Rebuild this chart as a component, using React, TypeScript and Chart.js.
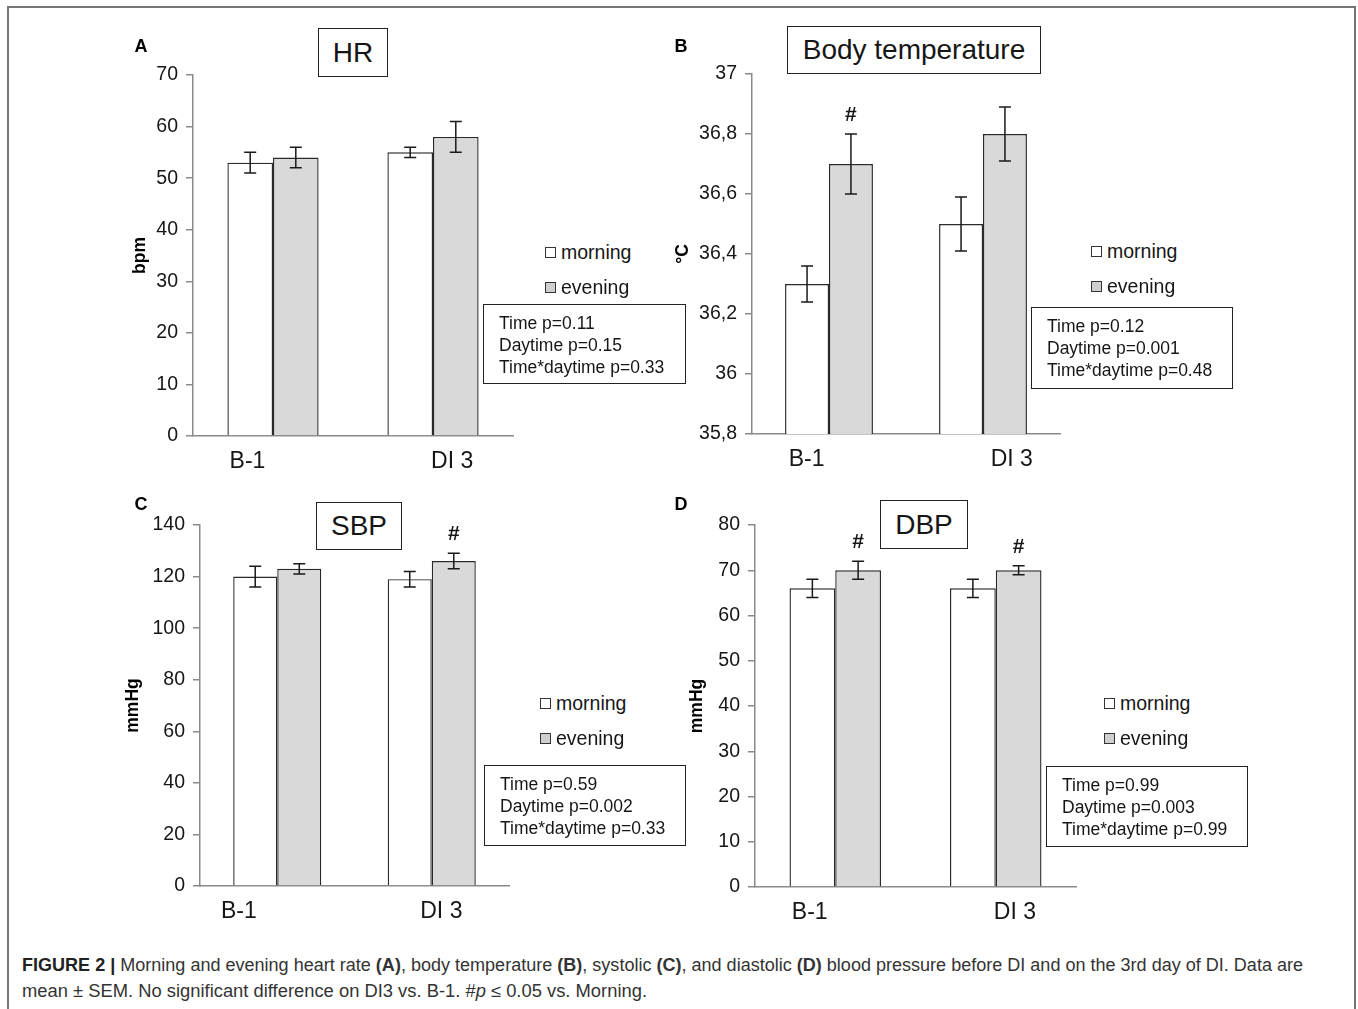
import React, { useEffect, useRef } from "react";
import { Chart, registerables } from "chart.js";

Chart.register(...registerables);

// ---------- data ----------
const CATEGORIES = ["B-1", "DI 3"];
const SERIES = ["morning", "evening"];

const HR_MORNING = [53, 55];
const HR_EVENING = [54, 58];
const HR_MORNING_ERR = [2, 1];
const HR_EVENING_ERR = [2, 3];
const HR_TICKS = [0, 10, 20, 30, 40, 50, 60, 70];
const HR_HASH = [false, false];
const HR_STATS = ["Time p=0.11", "Daytime p=0.15", "Time*daytime p=0.33"];

const BT_MORNING = [36.3, 36.5];
const BT_EVENING = [36.7, 36.8];
const BT_MORNING_ERR = [0.06, 0.09];
const BT_EVENING_ERR = [0.1, 0.09];
const BT_TICKS = [35.8, 36.0, 36.2, 36.4, 36.6, 36.8, 37.0];
const BT_HASH = [true, false];
const BT_STATS = ["Time p=0.12", "Daytime p=0.001", "Time*daytime p=0.48"];

const SBP_MORNING = [120, 119];
const SBP_EVENING = [123, 126];
const SBP_MORNING_ERR = [4, 3];
const SBP_EVENING_ERR = [2, 3];
const SBP_TICKS = [0, 20, 40, 60, 80, 100, 120, 140];
const SBP_HASH = [false, true];
const SBP_STATS = ["Time p=0.59", "Daytime p=0.002", "Time*daytime p=0.33"];

const DBP_MORNING = [66, 66];
const DBP_EVENING = [70, 70];
const DBP_MORNING_ERR = [2, 2];
const DBP_EVENING_ERR = [2, 1];
const DBP_TICKS = [0, 10, 20, 30, 40, 50, 60, 70, 80];
const DBP_HASH = [true, true];
const DBP_STATS = ["Time p=0.99", "Daytime p=0.003", "Time*daytime p=0.99"];

// ---------- styling ----------
const FONT = "'Liberation Sans', Arial, Helvetica, sans-serif";
const TEXT = "#161616";
const AXIS = "#8a8a8a";
const BAR_BORDER = "#2a2a2a";
const MORNING_FILL = "#ffffff";
const EVENING_FILL = "#d9d9d9";
const XLABEL_SIZE = 23;

type PanelProps = {
  morning: number[];
  evening: number[];
  morningErr: number[];
  eveningErr: number[];
  ticks: number[];
  hash: boolean[];
  yTitle: string;
  comma?: boolean;
  axisX: number;
  axisTop: number;
  axisBottom: number;
  axisEnd: number;
  titleX: number;
  labelShift: number[];
};

function ChartPanel(p: PanelProps) {
  const ref = useRef<HTMLCanvasElement | null>(null);
  const left = p.titleX - 9;
  const top = p.axisTop - 20;
  const right = p.axisEnd + 10;
  const bottom = p.axisBottom + 45;
  const width = right - left;
  const height = bottom - top;

  useEffect(() => {
    if (!ref.current) return;
    const errs = [p.morningErr, p.eveningErr];
    const errPlugin = {
      id: "errbars",
      afterDatasetsDraw(chart: any) {
        const ctx = chart.ctx;
        const ys = chart.scales.y;
        errs.forEach((err, di) => {
          const meta = chart.getDatasetMeta(di);
          meta.data.forEach((bar: any, i: number) => {
            const v = chart.data.datasets[di].data[i] as number;
            const t = ys.getPixelForValue(v + err[i]);
            const b = ys.getPixelForValue(v - err[i]);
            ctx.save();
            ctx.strokeStyle = "#1a1a1a";
            ctx.lineWidth = 1.5;
            ctx.beginPath();
            ctx.moveTo(bar.x, t);
            ctx.lineTo(bar.x, b);
            ctx.moveTo(bar.x - 6, t);
            ctx.lineTo(bar.x + 6, t);
            ctx.moveTo(bar.x - 6, b);
            ctx.lineTo(bar.x + 6, b);
            ctx.stroke();
            if (di === 1 && p.hash[i]) {
              ctx.fillStyle = TEXT;
              ctx.font = `bold 21px ${FONT}`;
              ctx.textAlign = "center";
              ctx.textBaseline = "middle";
              ctx.fillText("#", bar.x, t - 19);
            }
            ctx.restore();
          });
        });
      },
    };

    const fmt = (v: number) =>
      p.comma ? String(Math.round(v * 10) / 10).replace(".", ",") : String(v);

    // horizontal nudge of category labels (as in the original figure) via padding spaces
    const spaceW = 0.278 * XLABEL_SIZE;
    const xLabel = (i: number) => {
      const s = p.labelShift[i] || 0;
      const n = Math.round((Math.abs(s) * 2) / spaceW);
      const pad = " ".repeat(n);
      return s < 0 ? CATEGORIES[i] + pad : pad + CATEGORIES[i];
    };

    const chart = new Chart(ref.current, {
      type: "bar",
      data: {
        labels: CATEGORIES,
        datasets: [
          {
            label: SERIES[0],
            data: p.morning,
            backgroundColor: MORNING_FILL,
            borderColor: BAR_BORDER,
            borderWidth: 1.4,
          },
          {
            label: SERIES[1],
            data: p.evening,
            backgroundColor: EVENING_FILL,
            borderColor: BAR_BORDER,
            borderWidth: 1.4,
          },
        ],
      },
      options: {
        responsive: false,
        animation: false,
        devicePixelRatio: 1,
        layout: { padding: { top: 20, right: 10, left: 0, bottom: 0 } },
        plugins: {
          legend: { display: false },
          tooltip: { enabled: false },
          title: { display: false },
        },
        datasets: { bar: { categoryPercentage: 0.57, barPercentage: 1 } },
        scales: {
          x: {
            type: "category",
            offset: true,
            grid: { display: false, drawTicks: false },
            border: { display: true, color: AXIS, width: 1.5 },
            ticks: {
              font: { family: FONT, size: XLABEL_SIZE },
              color: TEXT,
              padding: 12,
              maxRotation: 0,
              autoSkip: false,
              callback: (_v: any, i: number) => xLabel(i),
            },
            afterFit: (s: any) => {
              s.height = 45;
            },
          },
          y: {
            type: "linear",
            min: p.ticks[0],
            max: p.ticks[p.ticks.length - 1],
            afterBuildTicks: (s: any) => {
              s.ticks = p.ticks.map((v) => ({ value: v }));
            },
            ticks: {
              font: { family: FONT, size: 19.5 },
              color: TEXT,
              padding: 8,
              callback: (v: any) => fmt(Number(v)),
            },
            grid: {
              drawOnChartArea: false,
              drawTicks: true,
              tickLength: 7,
              color: AXIS,
              lineWidth: 1.5,
            },
            border: { display: true, color: AXIS, width: 1.5 },
            title: {
              display: true,
              text: p.yTitle,
              color: "#000",
              font: { family: FONT, size: 17.5, weight: "bold", lineHeight: 1 },
              padding: 0,
            },
            afterFit: (s: any) => {
              s.width = p.axisX - left;
            },
          },
        },
      } as any,
      plugins: [errPlugin],
    });
    return () => chart.destroy();
  }, []);

  return (
    <canvas
      ref={ref}
      width={width}
      height={height}
      style={{ position: "absolute", left, top, width, height }}
    />
  );
}

function Letter({ x, y, t }: { x: number; y: number; t: string }) {
  return (
    <div
      style={{
        position: "absolute",
        left: x - 10,
        top: y - 11,
        width: 20,
        height: 22,
        lineHeight: "22px",
        textAlign: "center",
        font: `bold 18px ${FONT}`,
        color: "#000",
      }}
    >
      {t}
    </div>
  );
}

function TitleBox({ l, t, r, b, text }: { l: number; t: number; r: number; b: number; text: string }) {
  return (
    <div
      style={{
        position: "absolute",
        left: l,
        top: t,
        width: r - l,
        height: b - t,
        boxSizing: "border-box",
        border: "1.5px solid #222",
        background: "#fff",
        display: "flex",
        alignItems: "center",
        justifyContent: "center",
        font: `28px ${FONT}`,
        color: TEXT,
        whiteSpace: "nowrap",
      }}
    >
      {text}
    </div>
  );
}

function Legend({ x, y1, y2 }: { x: number; y1: number; y2: number }) {
  const item = (y: number, fill: string, label: string) => (
    <div
      key={label}
      style={{
        position: "absolute",
        left: x,
        top: y - 12,
        height: 24,
        display: "flex",
        alignItems: "center",
        font: `19.5px ${FONT}`,
        color: TEXT,
        whiteSpace: "nowrap",
      }}
    >
      <span
        style={{
          display: "inline-block",
          width: 9,
          height: 9,
          border: "1px solid #333",
          background: fill,
          marginRight: 5,
        }}
      />
      {label}
    </div>
  );
  return (
    <>
      {item(y1, MORNING_FILL, SERIES[0])}
      {item(y2, "#cfcfcf", SERIES[1])}
    </>
  );
}

function Stats({ l, t, r, b, lines }: { l: number; t: number; r: number; b: number; lines: string[] }) {
  return (
    <div
      style={{
        position: "absolute",
        left: l,
        top: t,
        width: r - l,
        height: b - t,
        boxSizing: "border-box",
        border: "1.5px solid #222",
        background: "#fff",
        padding: "7px 0 0 15px",
        font: `17.5px ${FONT}`,
        lineHeight: "22px",
        color: TEXT,
        whiteSpace: "nowrap",
      }}
    >
      {lines.map((s) => (
        <div key={s}>{s}</div>
      ))}
    </div>
  );
}

export default function App() {
  return (
    <div
      style={{
        position: "absolute",
        left: 0,
        top: 0,
        width: 1358,
        height: 1009,
        overflow: "hidden",
        background: "#fff",
      }}
    >
      <div
        style={{
          position: "absolute",
          left: 7,
          top: 6,
          width: 1345,
          height: 1020,
          borderLeft: "2px solid #767676",
          borderTop: "2px solid #767676",
          borderRight: "2px solid #767676",
        }}
      />

      {/* Panel A */}
      <ChartPanel
        morning={HR_MORNING}
        evening={HR_EVENING}
        morningErr={HR_MORNING_ERR}
        eveningErr={HR_EVENING_ERR}
        ticks={HR_TICKS}
        hash={HR_HASH}
        yTitle="bpm"
        axisX={193}
        axisTop={75}
        axisBottom={436}
        axisEnd={513}
        titleX={140}
        labelShift={[-24, 20]}
      />
      <Letter x={141} y={47} t="A" />
      <TitleBox l={318} t={28} r={388} b={77} text="HR" />
      <Legend x={545} y1={252} y2={287} />
      <Stats l={483} t={304} r={686} b={384} lines={HR_STATS} />

      {/* Panel B */}
      <ChartPanel
        morning={BT_MORNING}
        evening={BT_EVENING}
        morningErr={BT_MORNING_ERR}
        eveningErr={BT_EVENING_ERR}
        ticks={BT_TICKS}
        hash={BT_HASH}
        yTitle="°C"
        comma
        axisX={752}
        axisTop={74}
        axisBottom={434}
        axisEnd={1060}
        titleX={683}
        labelShift={[-23, 29]}
      />
      <Letter x={681} y={47} t="B" />
      <TitleBox l={787} t={26} r={1041} b={74} text="Body temperature" />
      <Legend x={1091} y1={251} y2={286} />
      <Stats l={1031} t={307} r={1233} b={389} lines={BT_STATS} />

      {/* Panel C */}
      <ChartPanel
        morning={SBP_MORNING}
        evening={SBP_EVENING}
        morningErr={SBP_MORNING_ERR}
        eveningErr={SBP_EVENING_ERR}
        ticks={SBP_TICKS}
        hash={SBP_HASH}
        yTitle="mmHg"
        axisX={200}
        axisTop={525}
        axisBottom={886}
        axisEnd={509}
        titleX={133}
        labelShift={[-37, 11]}
      />
      <Letter x={141} y={505} t="C" />
      <TitleBox l={316} t={502} r={402} b={550} text="SBP" />
      <Legend x={540} y1={703} y2={738} />
      <Stats l={484} t={765} r={686} b={846} lines={SBP_STATS} />

      {/* Panel D */}
      <ChartPanel
        morning={DBP_MORNING}
        evening={DBP_EVENING}
        morningErr={DBP_MORNING_ERR}
        eveningErr={DBP_EVENING_ERR}
        ticks={DBP_TICKS}
        hash={DBP_HASH}
        yTitle="mmHg"
        axisX={755}
        axisTop={525}
        axisBottom={887}
        axisEnd={1076}
        titleX={697}
        labelShift={[-25, 18]}
      />
      <Letter x={681} y={505} t="D" />
      <TitleBox l={880} t={500} r={968} b={549} text="DBP" />
      <Legend x={1104} y1={703} y2={738} />
      <Stats l={1046} t={766} r={1248} b={847} lines={DBP_STATS} />

      {/* Caption */}
      <svg
        width={1358}
        height={70}
        style={{ position: "absolute", left: 0, top: 940 }}
      >
        <text
          x={22}
          y={31}
          textLength={1281}
          lengthAdjust="spacingAndGlyphs"
          fontFamily={FONT}
          fontSize={17.5}
          fill="#333"
        >
          <tspan fontWeight="bold" fill="#222">FIGURE 2 | </tspan>
          Morning and evening heart rate <tspan fontWeight="bold">(A)</tspan>, body temperature{" "}
          <tspan fontWeight="bold">(B)</tspan>, systolic <tspan fontWeight="bold">(C)</tspan>, and
          diastolic <tspan fontWeight="bold">(D)</tspan> blood pressure before DI and on the 3rd day
          of DI. Data are
        </text>
        <text
          x={22}
          y={57}
          textLength={625}
          lengthAdjust="spacingAndGlyphs"
          fontFamily={FONT}
          fontSize={17.5}
          fill="#333"
        >
          mean ± SEM. No significant difference on DI3 vs. B-1. #<tspan fontStyle="italic">p</tspan> ≤
          0.05 vs. Morning.
        </text>
      </svg>
    </div>
  );
}
